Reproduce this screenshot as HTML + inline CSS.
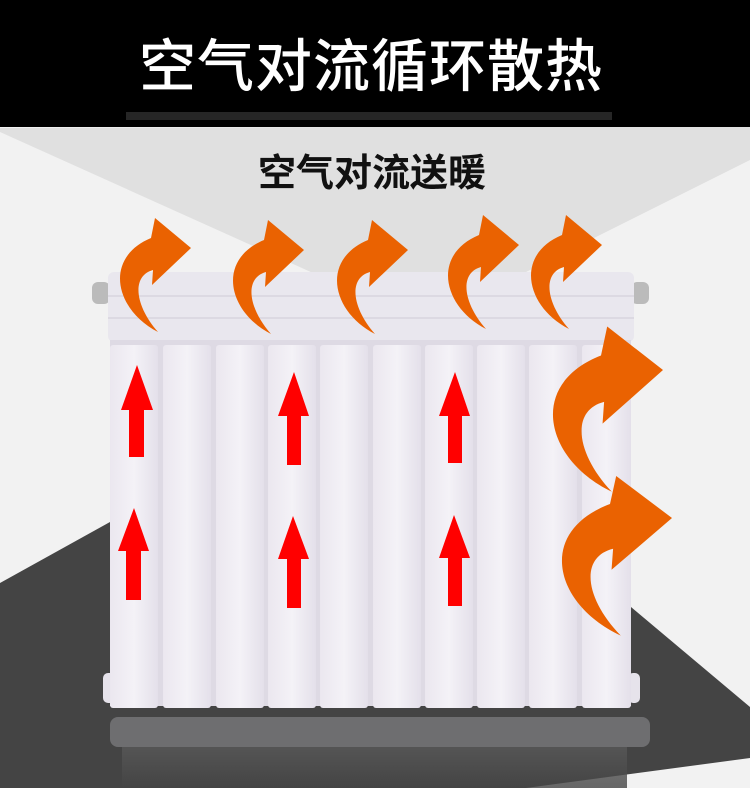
<!DOCTYPE html>
<html><head><meta charset="utf-8"><style>
html,body{margin:0;padding:0;width:750px;height:788px;overflow:hidden;background:#f2f2f2}
svg{display:block}
</style></head><body>
<svg width="750" height="788" viewBox="0 0 750 788" xmlns="http://www.w3.org/2000/svg">
<defs>
<path id="oa" d="M-33,84 C-76,62 -88,10 -40,-10 L-36,-30 L0,0 L-39,37 L-38,22 C-60,28 -56,58 -33,84 Z" fill="#ea6201"/>
<linearGradient id="pan" x1="0" x2="1"><stop offset="0" stop-color="#ebe7ef"/><stop offset="0.5" stop-color="#f4f2f7"/><stop offset="1" stop-color="#e4e0ea"/></linearGradient>
<linearGradient id="refl" x1="0" y1="0" x2="0" y2="1"><stop offset="0" stop-color="#5a5a5a"/><stop offset="1" stop-color="#444"/></linearGradient>
</defs>
<rect width="750" height="788" fill="#f2f2f2"/>
<polygon points="0,128 750,126 750,160 424,323 0,132" fill="#e0e0e0"/>
<polygon points="0,583 110,522 631,607 750,707 750,758 526,788 0,788" fill="#444"/>
<rect width="750" height="127" fill="#000"/>
<rect x="126" y="112" width="486" height="8" fill="#262626"/>
<text x="371" y="86" text-anchor="middle" font-family="'Noto Sans CJK SC',sans-serif" font-size="57" font-weight="500" fill="#fff" letter-spacing="1">空气对流循环散热</text>
<text x="372" y="186" text-anchor="middle" font-family="'Noto Sans CJK SC',sans-serif" font-size="38" font-weight="700" fill="#111">空气对流送暖</text>
<!-- top manifold -->
<rect x="92" y="282" width="18" height="22" rx="6" fill="#bbb"/>
<rect x="631" y="282" width="18" height="22" rx="6" fill="#bbb"/>
<rect x="108" y="272" width="526" height="70" rx="6" fill="#e9e7ee"/>
<g stroke="#cfcbd6" stroke-width="1">
<line x1="108" y1="296" x2="634" y2="296"/><line x1="108" y1="318" x2="634" y2="318"/>
</g>
<!-- reflection/bottom -->
<rect x="122" y="745" width="505" height="43" fill="url(#refl)" opacity="0.8"/>
<rect x="110" y="717" width="540" height="30" rx="8" fill="#6e6e70"/>
<g fill="#e6e3eb">
<rect x="103" y="673" width="12" height="30" rx="5"/><rect x="628" y="673" width="12" height="30" rx="5"/>
</g>
<rect x="110" y="340" width="521" height="366" fill="#dedae4"/>
<!-- panels -->
<g fill="url(#pan)">
<rect x="110" y="345" width="48" height="363" rx="3"/>
<rect x="163" y="345" width="48" height="363" rx="3"/>
<rect x="216" y="345" width="48" height="363" rx="3"/>
<rect x="268" y="345" width="48" height="363" rx="3"/>
<rect x="320" y="345" width="48" height="363" rx="3"/>
<rect x="373" y="345" width="48" height="363" rx="3"/>
<rect x="425" y="345" width="48" height="363" rx="3"/>
<rect x="477" y="345" width="48" height="363" rx="3"/>
<rect x="529" y="345" width="48" height="363" rx="3"/>
<rect x="582" y="345" width="49" height="363" rx="3"/>
</g>
<!-- red arrows -->
<g fill="#ff0000">
<polygon points="137,365 153,410 144,410 144,457 129,457 129,410 121,410"/>
<polygon points="134,508 149,551 141,551 141,600 126,600 126,551 118,551"/>
<polygon points="294,372 309,416 301,416 301,465 287,465 287,416 278,416"/>
<polygon points="293,516 309,559 301,559 301,608 287,608 287,559 278,559"/>
<polygon points="455,372 470,416 462,416 462,463 448,463 448,416 439,416"/>
<polygon points="454,515 470,558 462,558 462,606 448,606 448,558 439,558"/>
</g>
<!-- orange arrows -->
<use href="#oa" transform="translate(191,248)"/>
<use href="#oa" transform="translate(304,250)"/>
<use href="#oa" transform="translate(408,250)"/>
<use href="#oa" transform="translate(519,245)"/>
<use href="#oa" transform="translate(602,245)"/>
<use href="#oa" transform="translate(663,370) scale(1.55,1.45)"/>
<use href="#oa" transform="translate(672,518) scale(1.55,1.4)"/>
</svg>
</body></html>
